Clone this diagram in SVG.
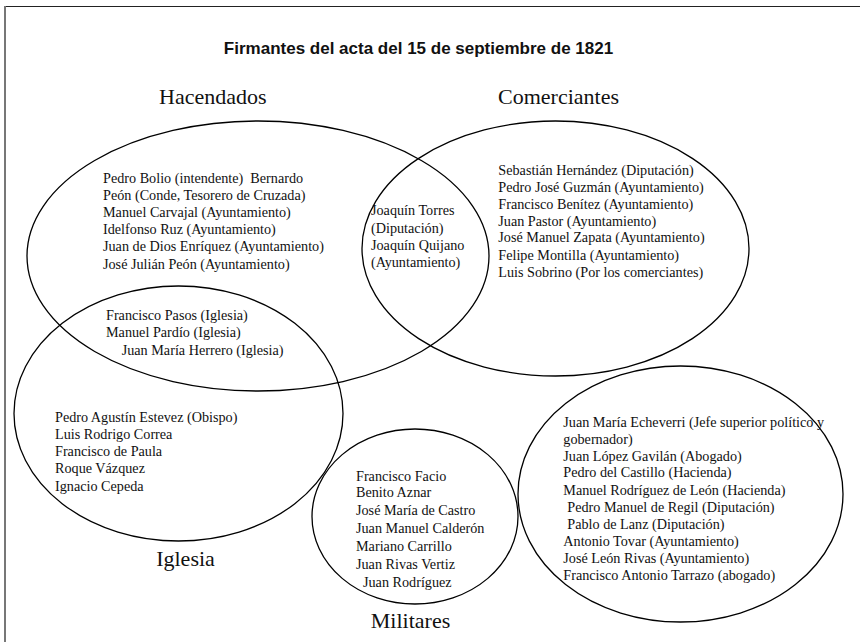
<svg xmlns="http://www.w3.org/2000/svg" width="860" height="642" viewBox="0 0 860 642">
<style>
.e{fill:none;stroke:#000;stroke-width:1.3}
.n{font-family:"Liberation Serif","Times New Roman",serif;font-size:14.2px;fill:#111;white-space:pre}
.h{font-family:"Liberation Serif","Times New Roman",serif;font-size:22px;fill:#111}
.t{font-family:"Liberation Sans",Arial,sans-serif;font-size:17px;font-weight:bold;fill:#111}
</style>
<rect width="860" height="642" fill="#fff"/>
<line x1="6" y1="6.5" x2="860" y2="6.5" stroke="#222" stroke-width="1.2"/>
<line x1="5" y1="6" x2="5" y2="642" stroke="#777" stroke-width="2"/>
<text class="t" x="418.5" y="54" text-anchor="middle">Firmantes del acta del 15 de septiembre de 1821</text>
<g id="hacendados">
<ellipse class="e" cx="258" cy="256" rx="231" ry="135"/>
<text class="h" x="159" y="104">Hacendados</text>
<text class="n" x="103" y="182.5" xml:space="preserve">Pedro Bolio (intendente)  Bernardo</text>
<text class="n" x="103" y="199.7">Peón (Conde, Tesorero de Cruzada)</text>
<text class="n" x="103" y="216.9">Manuel Carvajal (Ayuntamiento)</text>
<text class="n" x="103" y="234.1">Idelfonso Ruz (Ayuntamiento)</text>
<text class="n" x="103" y="251.3">Juan de Dios Enríquez (Ayuntamiento)</text>
<text class="n" x="103" y="268.5">José Julián Peón (Ayuntamiento)</text>
</g>
<g id="comerciantes">
<ellipse class="e" cx="555.5" cy="248.5" rx="193.5" ry="127.5"/>
<text class="h" x="498" y="104">Comerciantes</text>
<text class="n" x="498.3" y="174.7">Sebastián Hernández (Diputación)</text>
<text class="n" x="498.3" y="192.3">Pedro José Guzmán (Ayuntamiento)</text>
<text class="n" x="498.3" y="208.7">Francisco Benítez (Ayuntamiento)</text>
<text class="n" x="498.3" y="225.7">Juan Pastor (Ayuntamiento)</text>
<text class="n" x="498.3" y="242.3">José Manuel Zapata (Ayuntamiento)</text>
<text class="n" x="498.3" y="260">Felipe Montilla (Ayuntamiento)</text>
<text class="n" x="498.3" y="276.7">Luis Sobrino (Por los comerciantes)</text>
</g>
<g id="hacendados-comerciantes">
<text class="n" x="371" y="215">Joaquín Torres</text>
<text class="n" x="371" y="232.7">(Diputación)</text>
<text class="n" x="371" y="249.7">Joaquín Quijano</text>
<text class="n" x="371" y="267.3">(Ayuntamiento)</text>
</g>
<g id="iglesia">
<ellipse class="e" cx="178.5" cy="413.5" rx="164.5" ry="127.5"/>
<text class="h" x="185.5" y="566" text-anchor="middle">Iglesia</text>
<text class="n" x="55" y="421.7">Pedro Agustín Estevez (Obispo)</text>
<text class="n" x="55" y="439">Luis Rodrigo Correa</text>
<text class="n" x="55" y="456">Francisco de Paula</text>
<text class="n" x="55" y="473">Roque Vázquez</text>
<text class="n" x="55" y="490.7">Ignacio Cepeda</text>
</g>
<g id="hacendados-iglesia">
<text class="n" x="106" y="320">Francisco Pasos (Iglesia)</text>
<text class="n" x="106" y="337.3">Manuel Pardío (Iglesia)</text>
<text class="n" x="121.7" y="355">Juan María Herrero (Iglesia)</text>
</g>
<g id="militares">
<ellipse class="e" cx="415" cy="516.5" rx="103" ry="87.5"/>
<text class="h" x="410.5" y="628" text-anchor="middle">Militares</text>
<text class="n" x="356" y="480.7">Francisco Facio</text>
<text class="n" x="356" y="497.3">Benito Aznar</text>
<text class="n" x="356" y="515.3">José María de Castro</text>
<text class="n" x="356" y="533.3">Juan Manuel Calderón</text>
<text class="n" x="356" y="551.3">Mariano Carrillo</text>
<text class="n" x="356" y="569.3">Juan Rivas Vertiz</text>
<text class="n" x="363" y="587.3">Juan Rodríguez</text>
</g>
<g id="gobierno">
<ellipse class="e" cx="680.5" cy="494" rx="162.5" ry="128"/>
<text class="n" x="563.3" y="426.7">Juan María Echeverri (Jefe superior político y</text>
<text class="n" x="563.3" y="444">gobernador)</text>
<text class="n" x="563.3" y="460.7">Juan López Gavilán (Abogado)</text>
<text class="n" x="563.3" y="477.3">Pedro del Castillo (Hacienda)</text>
<text class="n" x="563.3" y="494.7">Manuel Rodríguez de León (Hacienda)</text>
<text class="n" x="567.3" y="512.3">Pedro Manuel de Regil (Diputación)</text>
<text class="n" x="567.3" y="529">Pablo de Lanz (Diputación)</text>
<text class="n" x="563.3" y="546.3">Antonio Tovar (Ayuntamiento)</text>
<text class="n" x="563.3" y="563.3">José León Rivas (Ayuntamiento)</text>
<text class="n" x="563.3" y="580">Francisco Antonio Tarrazo (abogado)</text>
</g>
<g id="connectors"/>
</svg>
